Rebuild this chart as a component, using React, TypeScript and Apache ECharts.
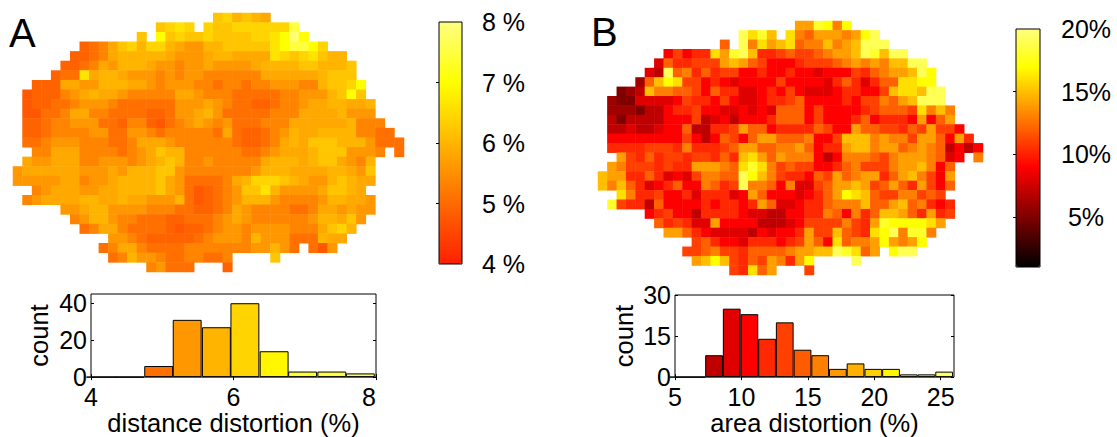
import React, { useEffect, useRef } from "react";
import * as echarts from "echarts";

const FONT = "Liberation Sans";
const CODES = "0123456789abcde";

// first occupied column of each map row (both maps share the same outline)
const rowStarts = [21, 15, 13, 7, 6, 5, 4, 2, 1, 1, 1, 1, 1, 1, 2, 1, 0, 0, 2, 1, 5, 6, 7, 10, 9, 10, 14];
const columnCount = 41;

// distance distortion (%) read per cell, coded by shade
const levelsA = [4.75, 4.91, 5.08, 5.35, 5.61, 5.83, 5.99, 6.21, 6.42, 6.64, 7.0, 7.5, 7.88];
const rowsA = [
  "7 8 6 7 6 5",
  "7898 . 8 77 8888 88 b",
  "7 . a 7 8 77 8 7777 88 9 a c a",
  "1235786 88 65 44 66 77777 9abba8",
  "11235 66666 5444 5 66 5555 98789 7 66",
  "11235 4 666 5 44 3 44 5 4444 5 666 6 77 666 7",
  "1 22 9 5 66 5 444 3 4 3 44 33333 3 5 5 555 5 6 77 7",
  "111 55 44 666 55 4 3 444 33 2 33 2 33 444 33 6 77 8 a",
  "0 111 3 4 5 6 55 4 33333 55 4 333 2222 2 33 444 6 7 a 7",
  "0 11 22 3 444 3 222222 444 5 4 3 22 11 2 33 4 55 66 55 6",
  "00 22 3 55 33 2222 11 2 44 5 6 4 2 2222 33 3 5555 6 444",
  "11 2 33 444 22 1 33 1 0 2 3 4 5 4 3 4 222 33 3 555555 6 333",
  "11 2 3333 44 22 44 3 2 3 3 333 2 5 2 11 2 3 4 6 55 6 666 33 22",
  "22 3 444 333 22 3 555 4 3 3333 3 2 11 2 3 5 6 5 777 666 4 222",
  "33 555 333 3 2 3 4 5 7 66 3 333 33 22 3 4 555 6 7 77 444 3 . 2",
  "5 44 555 33 4 44 3 4 5 6 7 6 33 4 3 3333 5 666 5 6 77 5 4 3 6",
  "4 5 55555 444 5 4 666 77 4 33 333 3 3 4 6 66 5 555 66 5 4 7",
  "44 444 55 3 44 5 6666 7 5 4 2 222 3 5 6 888 7 6 5 44 6 7 6 55",
  "3 4 55 544 55 66 66 7 5 4 2 0 1 2 3 4 77 9 6 4444 5 77 6 5",
  "3 4 55 55 66 55 6 55 444 6 2 0 1 2 3 4 666 4 33 33 4 66 55 4",
  "44 5 66 4444 333 22 11 2 3 5 4 3333 22 3 55 4 5 44",
  "3 4 66 4 33 2 22 11 22 2 3 4 5 4 3333 33 4 66 5 7 4",
  "2 3 55 3 2222 1 0 11 2 3 44 3 4444 333 5 7 8 6",
  "44 3 2 11111 2 3 444 3 6 44 4 222 6 55",
  "2 3 55 3 22 22 3 333 33 3 44 6 4 2 . 2 0 4",
  "2 3 6 44 3 22 33 22 3 .... 7",
  "3 4 22 2 ... 1",
];

// area distortion (%) read per cell, coded by shade
const levelsB = [5, 6, 7, 8, 9, 10.25, 11, 12, 13, 14, 15, 16, 17, 18, 19];
const rowsB = [
  "99 d c 8 c",
  "e b d a . b 8 7 9 99 8 9 c e",
  "7 . e 8 b 9 a b 7 88 a 8 9 a eee",
  "4 6 4 55 b 9 d e a 55 6 7 66 7 8 99 a e d a ee",
  "3 7 55 666 9 a 9 7 6 444 5 666 7 8 9 8 9 8 aa ee",
  "3 2 e 7 8 5 7 5 66 44 5 44 5 44 3 444 6 5 7 8 99 a e c",
  "1 7 a c b 66 4 5 4 3 4444 6 4444 3 5 7 5 3 5 77 bb cc",
  "0 1 2 a 88 77 6 4 7 55 33 4 5 4 6 4 333 4 55 44 6 a bb a ee",
  "1 00 3333 4 6 55 4 6 4 33 4 55 6 7 4444 5 4 66 8 7 9 a eee",
  "111 0 22 4 55 6 44 33 4 3 4 3 777 4 6 4444 5 6 777 6 b 8 a 8",
  "2 0 2222 444 6 2 3 4 2 444 5 777 4 6 444 5 7 4 555 4 9 4 7 9",
  "22 3 22 3 44 7 22 55 6 9 77 4 5555 7 6 44 9 77 66 5 7 6 9 66 4",
  "44444444 6 4 2 4 7 6 4 7 99 777 8 44 6 aaa 8 9 88 6 99 7 4 9 5",
  "5555 666 5 8 555 6 7 99 77 88 9 7 4 55 9 aa 8 99 7 8 9 8 7 2 4 2 4",
  "9 6 5 7 5 66 5 66 5 7 5 a b 9 7 9 888 4 2 4 888 7 6 8 999 8 7 3 4 . 8",
  "9 8 666 5 6 55 999 8 7 b d b 8 6 7 66 44 5 7 8 666 8 99 a 8 4 7",
  "a 99 55 7 5 3 4 3 6 88 77 e c a 8 6 55 4 7 6 9 7 8 99 5 7 9 a 8 6 4 9",
  "a 8 a 7 5 3 4 5 7 44 8 7 5 6 e 88 7 4 8 33 6 7 99 a 9 6 7 9 7 5 9 6 4 7",
  "b 8 55 6 44 5 3 555 3 4 9 7 444 3 4 5 7 9 c b a 7 66 88 6 7 6",
  "d 6 55 2 7 4444 5 4 55 4 5 9 7 33 4 55 7 888 a 77 9 a 7 8 5 4 5",
  "4 5 6 44 2 5555 4 33 2 2 44 55 8 7 4 8 5 7 aa 9 7 5 9 5 6",
  "7 5 6 5 33 9 4444 222 3 4 6666 8 6 5 9 d cccc b 9",
  "99 7 5 4 3333 2 4 3 44 5 9 66 a 7 6 5 b c e 8 dd 8",
  "6 7 5 44 3 555 4 5 6 9 7 4 b 7 88 9 c 9 8 9 c",
  "66 7 8 66 5 777 7 8 99 aa e d b 7 9 . c ee",
  "9 a c a 6 5 7 6 9 8 5 9 c .... e",
  "6 5 b 7 9 ... 6",
];

// histograms: bin centre, count, bar colour
const binsA = [4.14, 4.54, 4.95, 5.35, 5.76, 6.16, 6.57, 6.97, 7.38, 7.78];
const countsA = [0, 0, 6, 31, 27, 40, 14, 3, 3, 2];
const barColorsA = ["#ff3000", "#ff5000", "#ff7000", "#ff9800", "#ffb400", "#ffd400", "#fff600", "#ffff30", "#ffff40", "#ffff60"];

const binsB = [5.28, 6.61, 7.94, 9.27, 10.6, 11.93, 13.26, 14.6, 15.93, 17.26, 18.59, 19.93, 21.26, 22.6, 23.93, 25.26];
const countsB = [0, 0, 8, 25, 23, 14, 20, 10, 8, 3, 5, 3, 3, 1, 1, 2];
const barColorsB = ["#600000", "#900000", "#c00000", "#e00000", "#ff0000", "#ff2800", "#ff4000", "#ff5c00", "#ff8000", "#ff9800", "#ffb000", "#ffd000", "#fff800", "#ffff30", "#ffff30", "#ffff60"];

// colour scales
const paletteA = ["#ff2000", "#ff6a00", "#ffb500", "#ffff00", "#ffff80"];
const paletteB = ["#000000", "#200000", "#400000", "#600000", "#800000", "#9f0000", "#bf0000", "#df0000", "#ff0000", "#ff2000", "#ff4000", "#ff6000", "#ff8000", "#ff9f00", "#ffbf00", "#ffdf00", "#ffff00", "#ffff2b", "#ffff55", "#ffff80"];

// axis ticks
const ticksHistXA = [4, 6, 8];
const ticksHistYA = [0, 20, 40];
const ticksHistXB = [5, 10, 15, 20, 25];
const ticksHistYB = [0, 15, 30];
const ticksBarA = [5, 6, 7];
const labelsBarA = [4, 5, 6, 7, 8];
const ticksBarB = [5, 10, 15];
const labelsBarB = [5, 10, 15, 20];

const cells = (rows: string[], levels: number[]) => {
  const out: number[][] = [];
  rows.forEach((row, r) => {
    row.replace(/ /g, "").split("").forEach((ch, i) => {
      if (ch !== ".") out.push([rowStarts[r] + i, r, levels[CODES.indexOf(ch)]]);
    });
  });
  return out;
};

const bars = (bins: number[], counts: number[], colors: string[]) =>
  bins.map((b, i) => ({ value: [b, counts[i]], itemStyle: { color: colors[i] } }));

const columns = Array.from({ length: columnCount }, (_, i) => String(i));
const rowNames = rowStarts.map((_, i) => String(i));

const labelStyle = { fontFamily: FONT, fontSize: 25, color: "#000" };
const nameStyle = { fontFamily: FONT, fontSize: 25.5, color: "#000" };
const hiddenCat = (data: string[], gridIndex: number, inverse = false) => ({
  type: "category", data, gridIndex, show: false, inverse,
});
const tickOnly = (gridIndex: number, min: number, max: number, ticks: number[], position: string) => ({
  type: "value", gridIndex, min, max, position, splitLine: { show: false },
  axisLine: { show: false }, axisLabel: { show: false },
  axisTick: { show: true, inside: true, length: 3, customValues: ticks, lineStyle: { color: "#000" } },
});
const histAxis = (gridIndex: number, min: number, max: number, ticks: number[], position: string, name: string, nameGap: number, margin: number) => ({
  type: "value", gridIndex, min, max, position, name, nameGap, nameLocation: "middle",
  nameTextStyle: nameStyle, splitLine: { show: false }, axisLine: { show: false },
  axisTick: { show: true, inside: true, length: 3, customValues: ticks, lineStyle: { color: "#000" } },
  axisLabel: { ...labelStyle, margin, customValues: ticks, alignMaxLabel: position === "bottom" && max === 8 ? "right" : undefined },
});
const barAxis = (gridIndex: number, min: number, max: number, ticks: number[], labels: number[], fmt: string, margin: number, align: string) => ({
  type: "value", gridIndex, min, max, position: "right", z: 12, splitLine: { show: false }, axisLine: { show: false },
  axisTick: { show: true, inside: true, length: 3, customValues: ticks, lineStyle: { color: "#000" } },
  axisLabel: { ...labelStyle, margin, align, customValues: labels, formatter: fmt },
});
const frame = (left: number, top: number, width: number, height: number, z = 0) => ({
  left, top, width, height, show: true, borderColor: "#000", borderWidth: 1, backgroundColor: "transparent", z,
});
const heat = (data: number[][], idx: number) => ({
  type: "heatmap", data, xAxisIndex: idx, yAxisIndex: idx, progressive: 0, itemStyle: { borderWidth: 0 },
});
const hist = (data: any[], idx: number, barWidth: number) => ({
  type: "bar", data, xAxisIndex: idx, yAxisIndex: idx, barWidth,
  itemStyle: { borderColor: "#000", borderWidth: 1 },
});

export default function App() {
  const ref = useRef<HTMLDivElement>(null);
  useEffect(() => {
    document.body.style.margin = "0";
    const chart = echarts.init(ref.current!, null, { renderer: "svg" });
    chart.setOption({
      animation: false,
      backgroundColor: "#fff",
      grid: [
        { left: 13, top: 13, width: 391, height: 259, show: false },
        { left: 598, top: 21, width: 385, height: 254, show: false },
        frame(91, 294, 285, 85),
        frame(675, 295, 279, 84),
        frame(439, 22, 23, 242, 10),
        frame(1016, 29, 24, 238, 10),
      ],
      visualMap: [
        {
          type: "continuous", seriesIndex: 0, min: 4, max: 8, inRange: { color: paletteA },
          left: 439, top: 22, itemWidth: 23, itemHeight: 242, padding: 0, calculable: false,
          hoverLink: false, text: null, showLabel: false, z: 1,
        },
        {
          type: "continuous", seriesIndex: 1, min: 1, max: 20, inRange: { color: paletteB },
          left: 1016, top: 29, itemWidth: 24, itemHeight: 238, padding: 0, calculable: false,
          hoverLink: false, text: null, showLabel: false, z: 1,
        },
      ],
      xAxis: [
        hiddenCat(columns, 0),
        hiddenCat(columns, 1),
        histAxis(2, 4, 8, ticksHistXA, "bottom", "distance distortion (%)", 30, 7),
        histAxis(3, 5, 26, ticksHistXB, "bottom", "area distortion (%)", 31, 7),
        { type: "value", gridIndex: 4, min: 0, max: 1, show: false },
        { type: "value", gridIndex: 5, min: 0, max: 1, show: false },
        tickOnly(2, 4, 8, ticksHistXA, "top"),
        tickOnly(3, 5, 26, ticksHistXB, "top"),
      ],
      yAxis: [
        hiddenCat(rowNames, 0, true),
        hiddenCat(rowNames, 1, true),
        histAxis(2, 0, 45, ticksHistYA, "left", "count", 39, 4),
        histAxis(3, 0, 30, ticksHistYB, "left", "count", 38, 4),
        barAxis(4, 4, 8, ticksBarA, labelsBarA, "{value} %", 20, "left"),
        barAxis(5, 1, 20, ticksBarB, labelsBarB, "{value}%", 46, "center"),
        tickOnly(2, 0, 45, ticksHistYA, "right"),
        tickOnly(3, 0, 30, ticksHistYB, "right"),
      ],
      series: [
        heat(cells(rowsA, levelsA), 0),
        heat(cells(rowsB, levelsB), 1),
        hist(bars(binsA, countsA, barColorsA), 2, 28.9),
        hist(bars(binsB, countsB, barColorsB), 3, 17.75),
      ],
      graphic: [
        { type: "text", left: 9, top: 13, style: { text: "A", fontFamily: FONT, fontSize: 40, fill: "#000" } },
        { type: "text", left: 591, top: 12, style: { text: "B", fontFamily: FONT, fontSize: 40, fill: "#000" } },
      ],
    });
    return () => chart.dispose();
  }, []);
  return <div ref={ref} style={{ position: "fixed", left: 0, top: 0, width: 1117, height: 437, background: "#fff" }} />;
}
